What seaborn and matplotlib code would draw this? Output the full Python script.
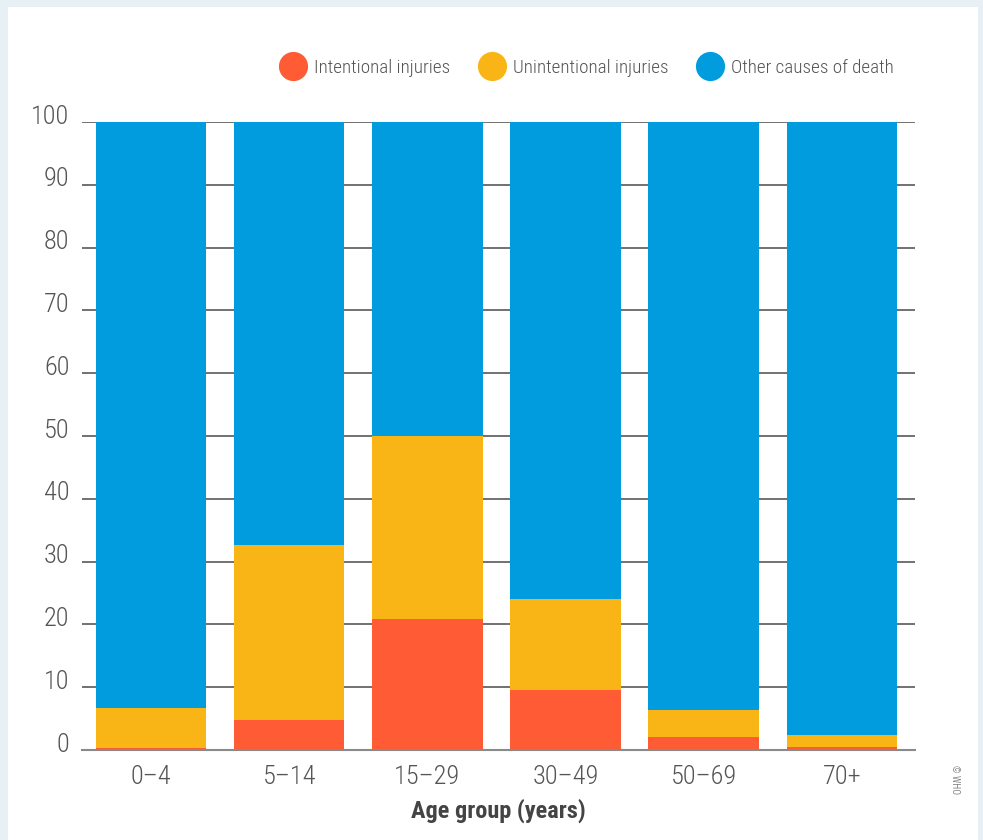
import matplotlib
matplotlib.use("Agg")
import matplotlib.pyplot as plt
import matplotlib.transforms as mtransforms
from matplotlib.patches import Rectangle
from matplotlib.lines import Line2D
import seaborn as sns
import pandas as pd

# ---- data ----
age_groups = ["0–4", "5–14", "15–29", "30–49", "50–69", "70+"]
intentional = [0.25, 4.8, 20.9, 9.6, 2.1, 0.5]
unintentional = [6.45, 27.8, 29.1, 14.4, 4.3, 1.9]
series_names = ["Intentional injuries", "Unintentional injuries", "Other causes of death"]
y_ticks = [0, 10, 20, 30, 40, 50, 60, 70, 80, 90, 100]
x_label = "Age group (years)"

other = [100 - a - b for a, b in zip(intentional, unintentional)]
colors = ["#FF5C35", "#F9B416", "#009CDE"]

sns.set_theme(style="white")
plt.rcParams["font.family"] = ["Roboto Condensed", "Liberation Sans Narrow", "Roboto", "DejaVu Sans"]

fig = plt.figure(figsize=(9.83, 8.40), dpi=100)
fig.patch.set_facecolor("#E7F0F4")
bg = Rectangle((8 / 983, 0), (978 - 8) / 983, 1 - 7 / 840,
               transform=fig.transFigure, facecolor="white",
               edgecolor="none", zorder=-10)
fig.patches.append(bg)

ax = fig.add_axes([82 / 983, 1 - 750 / 840, (915 - 82) / 983, (750 - 122) / 840])
ax.set_zorder(2)
ax.set_facecolor("none")

df = pd.DataFrame({"age": age_groups, "int": intentional,
                   "unint": unintentional, "other": other})
df["cum1"] = df["int"]
df["cum2"] = df["int"] + df["unint"]
df["cum3"] = df["cum2"] + df["other"]

# draw stacked bars: tallest first so shorter ones overlay
for col, c in [("cum3", colors[2]), ("cum2", colors[1]), ("cum1", colors[0])]:
    sns.barplot(data=df, x="age", y=col, color=c, width=0.8, ax=ax,
                saturation=1, edgecolor="none", linewidth=0, zorder=3)

ax.set_ylim(0, 100)
ax.set_xlim(-0.5, 5.53)
ax.set_yticks(y_ticks)
ax.set_yticklabels([str(v) for v in y_ticks])
ax.yaxis.grid(True, color="#666666", linewidth=1.3, zorder=0)
ax.set_axisbelow(True)
for s in ["top", "right", "left"]:
    ax.spines[s].set_visible(False)
ax.spines["bottom"].set_color("#8a8a8a")
ax.spines["bottom"].set_linewidth(1.5)
ax.spines["bottom"].set_zorder(5)

ax.tick_params(axis="y", length=0, pad=9, labelsize=19, labelcolor="#555555")
ax.tick_params(axis="x", length=0, pad=11, labelsize=19, labelcolor="#555555")
for lab in ax.get_xticklabels() + ax.get_yticklabels():
    lab.set_fontweight("light")
offset = mtransforms.ScaledTranslation(0, 8 / 100, fig.dpi_scale_trans)
for lab in ax.get_yticklabels():
    lab.set_transform(lab.get_transform() + offset)

ax.set_ylabel("")
ax.set_xlabel(x_label, fontsize=17.5, fontweight="bold", color="#444444", labelpad=7)

handles = [Line2D([0], [0], marker="o", linestyle="none", markersize=21,
                  markerfacecolor=c, markeredgecolor="none") for c in colors]
fig.legend(handles, series_names, loc="center right",
           bbox_to_anchor=(901 / 983, 1 - 68 / 840), ncol=3, frameon=False,
           labelcolor="#555555", handletextpad=0.45,
           columnspacing=1.5, borderaxespad=0, handlelength=1.3,
           prop={"weight": "light", "size": 13.8})

fig.text(955 / 983, 1 - 780 / 840, "© WHO", rotation=270, fontsize=7,
         color="#888888", ha="center", va="center")

fig.savefig("out.png", dpi=100, facecolor=fig.get_facecolor())
